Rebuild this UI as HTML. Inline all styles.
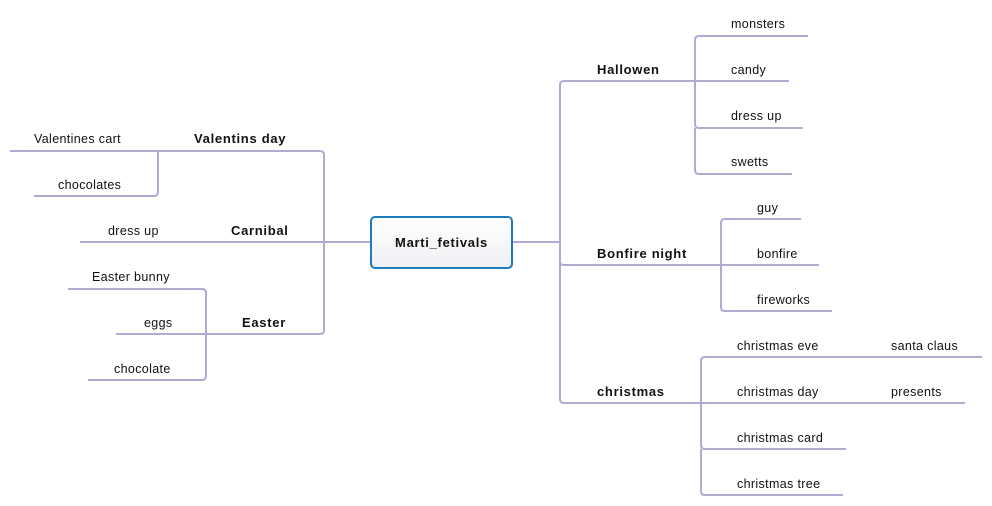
<!DOCTYPE html>
<html><head><meta charset="utf-8"><style>
html,body{margin:0;padding:0;background:#fff;}
svg{display:block}
text{font-family:"Liberation Sans",Arial,sans-serif;font-size:12.5px;fill:#111;letter-spacing:0.35px;}
.b{font-weight:bold;font-size:13px;letter-spacing:0.7px;}
</style></head><body>
<svg width="992" height="506" viewBox="0 0 992 506" xmlns="http://www.w3.org/2000/svg">
<defs><linearGradient id="g" x1="0" y1="0" x2="0" y2="1"><stop offset="0" stop-color="#ffffff"/><stop offset="1" stop-color="#eef0f3"/></linearGradient></defs>
<g stroke="#b3a9d3" stroke-width="2" fill="none">
<path d="M371 242 H324"/>
<path d="M324 242 V155 Q324 151 320 151 H10"/>
<path d="M324 242 V330 Q324 334 320 334 H206"/>
<path d="M324 242 H80"/>
<path d="M158 151 V192 Q158 196 154 196 H34"/>
<path d="M206 334 V293 Q206 289 202 289 H68"/>
<path d="M206 334 V376 Q206 380 202 380 H88"/>
<path d="M206 334 H116"/>
<path d="M512 242 H560"/>
<path d="M560 242 V85 Q560 81 564 81 H789"/>
<path d="M560 242 V261 Q560 265 564 265 H819"/>
<path d="M560 242 V399 Q560 403 564 403 H965"/>
<path d="M695 81 V40 Q695 36 699 36 H808"/>
<path d="M695 81 V124 Q695 128 699 128 H803"/>
<path d="M695 128 V170 Q695 174 699 174 H792"/>
<path d="M721 265 V223 Q721 219 725 219 H801"/>
<path d="M721 265 V307 Q721 311 725 311 H832"/>
<path d="M701 403 V361 Q701 357 705 357 H982"/>
<path d="M701 403 V445 Q701 449 705 449 H846"/>
<path d="M701 449 V491 Q701 495 705 495 H843"/>
</g>
<rect x="371" y="217" width="141" height="51" rx="4" fill="url(#g)" stroke="#1b7ac0" stroke-width="2"/>
<text class="b" x="441.5" y="247" text-anchor="middle">Marti_fetivals</text>
<text class="b" x="194" y="143">Valentins day</text>
<text x="34" y="143">Valentines cart</text>
<text x="58" y="189">chocolates</text>
<text class="b" x="231" y="235">Carnibal</text>
<text x="108" y="235">dress up</text>
<text class="b" x="242" y="327">Easter</text>
<text x="92" y="281">Easter bunny</text>
<text x="144" y="327">eggs</text>
<text x="114" y="373">chocolate</text>
<text class="b" x="597" y="74">Hallowen</text>
<text x="731" y="28">monsters</text>
<text x="731" y="74">candy</text>
<text x="731" y="120">dress up</text>
<text x="731" y="166">swetts</text>
<text class="b" x="597" y="258">Bonfire night</text>
<text x="757" y="212">guy</text>
<text x="757" y="258">bonfire</text>
<text x="757" y="304">fireworks</text>
<text class="b" x="597" y="396">christmas</text>
<text x="737" y="350">christmas eve</text>
<text x="891" y="350">santa claus</text>
<text x="737" y="396">christmas day</text>
<text x="891" y="396">presents</text>
<text x="737" y="442">christmas card</text>
<text x="737" y="488">christmas tree</text>
</svg>
</body></html>
